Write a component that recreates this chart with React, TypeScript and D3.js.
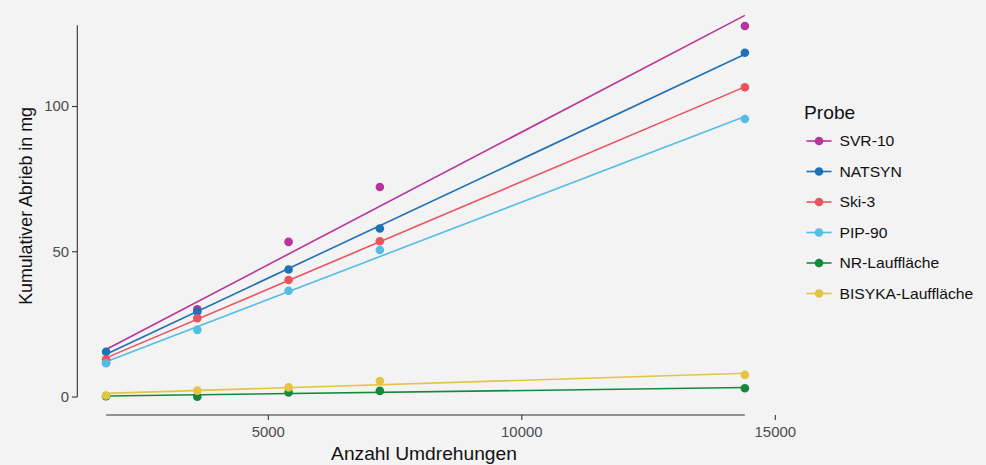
import React from "react";
import * as d3 from "d3";

const xValues = [1800, 3600, 5400, 7200, 14400];
const seriesNames = ["SVR-10", "NATSYN", "Ski-3", "PIP-90", "NR-Lauffläche", "BISYKA-Lauffläche"];
const svr10 = [11.8, 30.2, 53.4, 72.3, 127.7];
const natsyn = [15.6, 29.4, 43.9, 58.0, 118.5];
const ski3 = [13.0, 27.1, 40.3, 53.6, 106.6];
const pip90 = [11.6, 23.1, 36.6, 50.6, 95.7];
const nrLauf = [0.3, 0.1, 1.6, 2.1, 3.0];
const bisyka = [0.5, 2.2, 3.3, 5.5, 7.6];
const seriesColors = ["#B8339B", "#1F71B5", "#E9545F", "#53BDE4", "#13893A", "#E3C443"];
const xTicks = [5000, 10000, 15000];
const yTicks = [0, 50, 100];

const allSeries = [svr10, natsyn, ski3, pip90, nrLauf, bisyka];

function fit(xs: number[], ys: number[]) {
  const mx = d3.mean(xs)!;
  const my = d3.mean(ys)!;
  let sxy = 0, sxx = 0;
  xs.forEach((x, i) => { sxy += (x - mx) * (ys[i] - my); sxx += (x - mx) * (x - mx); });
  const b = sxy / sxx;
  const a = my - b * mx;
  return (x: number) => a + b * x;
}

const SX = 1.08;

function T(props: { x: number; y: number; anchor?: string; size: number; fill: string; dy?: string; children: React.ReactNode }) {
  return (
    <text
      transform={`translate(${props.x},${props.y}) scale(${SX},1)`}
      dy={props.dy}
      textAnchor={props.anchor || "start"}
      fontSize={props.size}
      fill={props.fill}
    >
      {props.children}
    </text>
  );
}

export default function App() {
  const W = 986, H = 465;
  const x = d3.scaleLinear().domain([5000, 10000]).range([268.3, 521.8]);
  const y = d3.scaleLinear().domain([0, 100]).range([397, 106.5]);
  const font = "'Liberation Sans', Arial, Helvetica, sans-serif";
  const xMin = d3.min(xValues)!, xMax = d3.max(xValues)!;
  const yMaxData = 128;
  const axisColor = "#333";
  const lineGen = d3.line<[number, number]>().x(d => x(d[0])).y(d => y(d[1]));

  return (
    <div style={{ position: "fixed", left: 0, top: 0 }}>
      <svg width={W} height={H} style={{ display: "block", background: "#F3F3F3" }} fontFamily={font}>
        <rect x={0} y={0} width={W} height={H} fill="#F3F3F3" />
        {/* y axis */}
        <line x1={77.3} x2={77.3} y1={y(yMaxData)} y2={y(0)} stroke={axisColor} strokeWidth={1.1} />
        {yTicks.map(t => (
          <g key={t}>
            <line x1={72} x2={77.3} y1={y(t)} y2={y(t)} stroke={axisColor} strokeWidth={1.1} />
            <T x={69} y={y(t)} dy="0.35em" anchor="end" size={13.8} fill="#4D4D4D">{t}</T>
          </g>
        ))}
        {/* x axis */}
        <line x1={x(xMin)} x2={x(xMax)} y1={415} y2={415} stroke={axisColor} strokeWidth={1.1} />
        {xTicks.map(t => (
          <g key={t}>
            <line x1={x(t)} x2={x(t)} y1={415} y2={420} stroke={axisColor} strokeWidth={1.1} />
            <T x={x(t)} y={437} anchor="middle" size={13.8} fill="#4D4D4D">{t}</T>
          </g>
        ))}
        <T x={424} y={460} anchor="middle" size={17.8} fill="#111">Anzahl Umdrehungen</T>
        <text transform={`translate(32,206) rotate(-90)`} textAnchor="middle" fontSize={17.8} fill="#111">Kumulativer Abrieb in mg</text>
        {/* regression lines */}
        {allSeries.map((s, i) => {
          const f = fit(xValues, s);
          const pts: [number, number][] = [[xMin, f(xMin)], [xMax, f(xMax)]];
          return <path key={"l" + i} d={lineGen(pts)!} stroke={seriesColors[i]} strokeWidth={1.6} fill="none" />;
        })}
        {/* points */}
        {allSeries.map((s, i) => (
          <g key={"p" + i}>
            {s.map((v, j) => (
              <circle key={j} cx={x(xValues[j])} cy={y(v)} r={4.3} fill={seriesColors[i]} />
            ))}
          </g>
        ))}
        {/* legend */}
        <T x={804} y={119} size={17.8} fill="#111">Probe</T>
        {seriesNames.map((n, i) => {
          const cy = 141 + i * 30.5;
          return (
            <g key={n}>
              <line x1={806.5} x2={831.5} y1={cy} y2={cy} stroke={seriesColors[i]} strokeWidth={1.6} />
              <circle cx={819} cy={cy} r={4.3} fill={seriesColors[i]} />
              <T x={839.5} y={cy} dy="0.35em" size={14.5} fill="#111">{n}</T>
            </g>
          );
        })}
      </svg>
    </div>
  );
}
